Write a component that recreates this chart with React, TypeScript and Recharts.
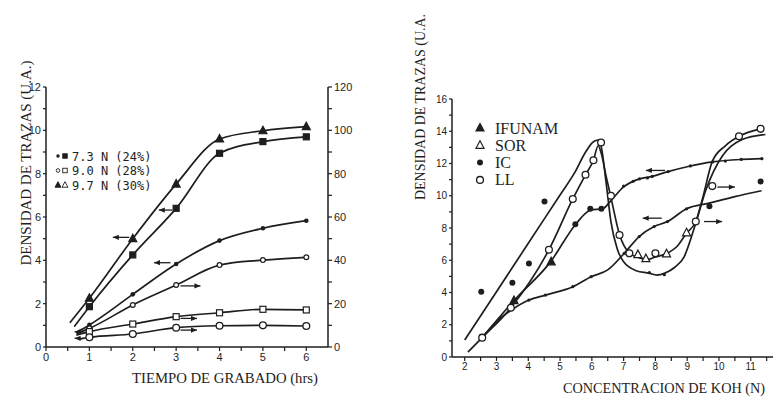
import React from 'react'
import { ComposedChart, Line, XAxis, YAxis } from 'recharts'

const INK = '#1e1e1e'
const PAPER = '#ffffff'

// ---- left panel: track density vs. etching time
const hours = [1, 2, 3, 4, 5, 6]
const densTri = [2.25, 5.0, 7.52, 9.6, 9.98, 10.17]
const densSq = [1.86, 4.25, 6.4, 8.94, 9.48, 9.7]
const densDot = [1.02, 2.43, 3.83, 4.91, 5.48, 5.83]
const densRing = [0.86, 1.94, 2.86, 3.78, 4.01, 4.14]
const densSqOpen = [0.71, 1.06, 1.4, 1.58, 1.74, 1.71]
const densCircle = [0.45, 0.6, 0.89, 0.98, 1.0, 0.97]
// where each fitted curve begins (x, y), ahead of the first measurement
const startTri = [0.55, 1.12]
const startSq = [0.65, 0.94]
const startDot = [0.7, 0.68]
const startRing = [0.7, 0.62]
const startSqOpen = [0.7, 0.55]
const startCircle = [0.75, 0.35]
// axis markers: y, tail x, head x
const timeArrowY = [5.06, 6.32, 3.89, 2.82, 1.32, 0.78, 0.7, 0.4]
const timeArrowFrom = [1.92, 2.91, 2.87, 3.1, 3.1, 3.1, 0.88, 0.88]
const timeArrowTo = [1.54, 2.6, 2.49, 3.56, 3.48, 3.48, 0.66, 0.66]

const timeTicks = [0, 0.5, 1, 1.5, 2, 2.5, 3, 3.5, 4, 4.5, 5, 5.5, 6]
const densTicks = [0, 1, 2, 3, 4, 5, 6, 7, 8, 9, 10, 11, 12]
const pctTicks = [0, 10, 20, 30, 40, 50, 60, 70, 80, 90, 100, 110, 120]

// ---- right panel: track density vs. KOH concentration
const outerX = [2.0, 3.0, 4.0, 5.0, 5.45, 5.8, 6.05, 6.2, 6.3, 6.45, 6.6, 6.8, 7.0, 7.4, 7.8, 8.05, 8.3, 8.6, 8.9, 9.27, 9.59, 10.1, 10.73, 11.46]
const outerY = [1.05, 4.05, 7.05, 10.05, 11.4, 12.7, 13.35, 13.45, 13.0, 10.8, 8.4, 6.7, 5.9, 5.35, 5.2, 5.08, 5.2, 5.55, 6.2, 8.3, 10.37, 12.45, 13.49, 13.8]
const llX = [2.1, 2.55, 3.45, 4.65, 5.4, 5.8, 6.05, 6.2, 6.3, 6.45, 6.6, 6.87, 7.18, 7.5, 7.75, 8.0, 8.33, 8.7, 8.98, 9.27, 9.5, 9.79, 10.2, 10.63, 11.31]
const llY = [0.3, 1.2, 3.05, 6.65, 9.8, 11.3, 12.2, 13.1, 12.6, 11.2, 9.9, 7.6, 6.45, 6.15, 6.05, 6.2, 6.4, 6.9, 7.68, 8.4, 9.96, 12.13, 13.1, 13.69, 14.15]
const upperX = [2.55, 3.55, 4.7, 5.5, 5.95, 6.35, 6.6, 7.0, 7.5, 7.9, 8.4, 9.0, 9.8, 10.7, 11.35]
const upperY = [1.2, 3.5, 5.9, 8.25, 9.1, 9.2, 9.7, 10.55, 11.05, 11.2, 11.5, 11.8, 12.1, 12.25, 12.3]
const lowerX = [2.55, 3.0, 3.5, 4.02, 4.54, 5.4, 5.98, 6.5, 7.02, 7.49, 7.96, 8.38, 8.98, 9.69, 10.5, 11.34]
const lowerY = [1.2, 2.2, 2.95, 3.53, 3.84, 4.36, 4.98, 5.4, 6.43, 7.47, 8.09, 8.4, 9.19, 9.54, 9.95, 10.31]

const ifunamX = [3.55, 4.72]
const ifunamY = [3.5, 5.9]
const sorX = [7.45, 7.7, 8.35, 8.98]
const sorY = [6.35, 6.1, 6.4, 7.7]
const icX = [2.52, 3.5, 4.02, 4.51, 5.48, 5.95, 6.3, 9.7, 11.31]
const icY = [4.05, 4.6, 5.8, 9.65, 8.24, 9.2, 9.2, 9.35, 10.89]
const llPtX = [2.55, 3.45, 4.65, 5.4, 5.8, 6.05, 6.29, 6.6, 6.87, 7.18, 8.0, 9.27, 9.79, 10.63, 11.31]
const llPtY = [1.2, 3.05, 6.65, 9.8, 11.3, 12.2, 13.3, 10.0, 7.57, 6.43, 6.43, 8.4, 10.6, 13.69, 14.15]
const smallX = [7.0, 7.3, 7.5, 7.75, 7.9, 8.4, 9.1, 9.8, 10.2, 10.7, 11.35, 4.02, 4.54, 5.4, 5.98, 7.02, 7.49, 7.96, 8.38, 8.98, 7.81, 8.28]
const smallY = [10.6, 10.9, 11.05, 11.1, 11.2, 11.5, 11.85, 12.1, 12.15, 12.25, 12.3, 3.53, 3.84, 4.36, 4.98, 6.43, 7.47, 8.09, 8.4, 9.19, 5.23, 5.1]

const kohArrowY = [11.57, 10.54, 8.61, 8.4]
const kohArrowFrom = [8.3, 9.95, 8.2, 9.53]
const kohArrowTo = [7.7, 10.5, 7.6, 10.1]

const kohTicks = [2, 2.5, 3, 3.5, 4, 4.5, 5, 5.5, 6, 6.5, 7, 7.5, 8, 8.5, 9, 9.5, 10, 10.5, 11, 11.5]
const kohDensTicks = [0, 1, 2, 3, 4, 5, 6, 7, 8, 9, 10, 11, 12, 13, 14, 15, 16]

type Kind = 'tri' | 'triOpen' | 'sq' | 'sqOpen' | 'dot' | 'ring' | 'disc' | 'circle' | 'small'

function Marker({ kind, cx, cy }: { kind: Kind; cx: number; cy: number }) {
  if (cx == null || cy == null) return null
  switch (kind) {
    case 'tri':
    case 'triOpen':
      return (
        <polygon
          points={`${cx},${cy - 4.5} ${cx - 4},${cy + 3} ${cx + 4},${cy + 3}`}
          fill={kind === 'tri' ? INK : PAPER}
          stroke={INK}
          strokeWidth={1.2}
        />
      )
    case 'sq':
    case 'sqOpen':
      return (
        <rect
          x={cx - 3}
          y={cy - 3}
          width={6}
          height={6}
          fill={kind === 'sq' ? INK : PAPER}
          stroke={INK}
          strokeWidth={1.2}
        />
      )
    case 'dot':
      return <circle cx={cx} cy={cy} r={2.3} fill={INK} />
    case 'small':
      return <circle cx={cx} cy={cy} r={1.6} fill={INK} />
    case 'disc':
      return <circle cx={cx} cy={cy} r={3} fill={INK} />
    case 'ring':
      return <circle cx={cx} cy={cy} r={2.4} fill={PAPER} stroke={INK} strokeWidth={1.2} />
    case 'circle':
      return <circle cx={cx} cy={cy} r={3.4} fill={PAPER} stroke={INK} strokeWidth={1.3} />
  }
  return null
}

// dot renderer that skips rows flagged as curve-only
const dotOf = (kind: Kind) => (p: any) =>
  p.payload && p.payload.mark === false ? (
    <g key={`n${p.index}`} />
  ) : (
    <Marker key={`m${p.index}`} kind={kind} cx={p.cx} cy={p.cy} />
  )

const arrowHead = (p: any) => {
  if (p.index !== 1) return <g key={`a${p.index}`} />
  const d = p.payload.dir
  const { cx, cy } = p
  return (
    <polygon
      key={`a${p.index}`}
      points={`${cx},${cy} ${cx - d * 6},${cy - 2.6} ${cx - d * 6},${cy + 2.6}`}
      fill={INK}
    />
  )
}

const zip = (xs: number[], ys: number[]) => xs.map((x, i) => ({ x, y: ys[i] }))
const timeRows = (start: number[], ys: number[]) => [
  { x: start[0], y: start[1], mark: false },
  ...hours.map((h, i) => ({ x: h, y: ys[i] })),
]
const arrowRows = (y: number, from: number, to: number) => [
  { x: from, y, dir: Math.sign(to - from) },
  { x: to, y, dir: Math.sign(to - from) },
]

const tickFont = { fill: INK, fontSize: 11, fontFamily: 'Liberation Sans, Arial, sans-serif' }
const axisStroke = { stroke: INK, strokeWidth: 1.5 }
const tickStroke = { stroke: INK, strokeWidth: 1.2 }
const intLabel = (v: number) => (Number.isInteger(v) ? String(v) : '')
const evenLabel = (step: number) => (v: number) => (v % step === 0 ? String(v) : '')
const blank = () => ''

const timeSeries: { start: number[]; ys: number[]; kind: Kind }[] = [
  { start: startTri, ys: densTri, kind: 'tri' },
  { start: startSq, ys: densSq, kind: 'sq' },
  { start: startDot, ys: densDot, kind: 'dot' },
  { start: startRing, ys: densRing, kind: 'ring' },
  { start: startSqOpen, ys: densSqOpen, kind: 'sqOpen' },
  { start: startCircle, ys: densCircle, kind: 'circle' },
]

function TimeChart() {
  return (
    <ComposedChart width={380} height={400} margin={{ top: 87, right: 12, bottom: 23, left: 0 }}>
      <XAxis
        xAxisId="b"
        dataKey="x"
        type="number"
        domain={[0, 6.5]}
        ticks={timeTicks}
        interval={0}
        tickFormatter={intLabel}
        tick={tickFont}
        tickSize={4}
        tickMargin={2}
        height={30}
        axisLine={axisStroke}
        tickLine={tickStroke}
        allowDataOverflow
      />
      <XAxis
        xAxisId="t"
        orientation="top"
        dataKey="x"
        type="number"
        domain={[0, 6.5]}
        ticks={timeTicks}
        interval={0}
        tickFormatter={blank}
        tickSize={4}
        height={0}
        axisLine={axisStroke}
        tickLine={tickStroke}
        allowDataOverflow
      />
      <YAxis
        yAxisId="l"
        type="number"
        domain={[0, 12]}
        ticks={densTicks}
        interval={0}
        tickFormatter={evenLabel(2)}
        tick={tickFont}
        tickSize={3}
        tickMargin={2}
        width={46}
        axisLine={axisStroke}
        tickLine={tickStroke}
        allowDataOverflow
      />
      <YAxis
        yAxisId="r"
        orientation="right"
        type="number"
        domain={[0, 120]}
        ticks={pctTicks}
        interval={0}
        tickFormatter={evenLabel(20)}
        tick={tickFont}
        tickSize={4}
        tickMargin={2}
        width={40}
        axisLine={axisStroke}
        tickLine={tickStroke}
        allowDataOverflow
      />
      {timeSeries.map((s, i) => (
        <Line
          key={`c${i}`}
          xAxisId="b"
          yAxisId="l"
          data={timeRows(s.start, s.ys)}
          dataKey="y"
          type="monotone"
          stroke={INK}
          strokeWidth={1.7}
          dot={dotOf(s.kind)}
          activeDot={false}
          isAnimationActive={false}
        />
      ))}
      {timeArrowY.map((y, i) => (
        <Line
          key={`a${i}`}
          xAxisId="b"
          yAxisId="l"
          data={arrowRows(y, timeArrowFrom[i], timeArrowTo[i])}
          dataKey="y"
          type="linear"
          stroke={INK}
          strokeWidth={1.3}
          dot={arrowHead}
          activeDot={false}
          isAnimationActive={false}
        />
      ))}
    </ComposedChart>
  )
}

const kohCurves = [
  zip(outerX, outerY),
  zip(llX, llY),
  zip(upperX, upperY),
  zip(lowerX, lowerY),
]
const kohPoints: { rows: { x: number; y: number }[]; kind: Kind }[] = [
  { rows: zip(smallX, smallY), kind: 'small' },
  { rows: zip(icX, icY), kind: 'disc' },
  { rows: zip(ifunamX, ifunamY), kind: 'tri' },
  { rows: zip(sorX, sorY), kind: 'triOpen' },
  { rows: zip(llPtX, llPtY), kind: 'circle' },
]

function KohChart() {
  const kohFont = { ...tickFont, fontSize: 10 }
  return (
    <ComposedChart width={397} height={400} margin={{ top: 99, right: 4, bottom: 18, left: 48 }}>
      <XAxis
        xAxisId="b"
        dataKey="x"
        type="number"
        domain={[1.6, 11.7]}
        ticks={kohTicks}
        interval={0}
        tickFormatter={intLabel}
        tick={kohFont}
        tickSize={4}
        tickMargin={2}
        height={25}
        axisLine={axisStroke}
        tickLine={tickStroke}
        allowDataOverflow
      />
      <XAxis
        xAxisId="t"
        orientation="top"
        dataKey="x"
        type="number"
        domain={[1.6, 11.7]}
        ticks={kohTicks}
        interval={0}
        tickFormatter={blank}
        tickSize={4}
        height={0}
        axisLine={axisStroke}
        tickLine={tickStroke}
        allowDataOverflow
      />
      <YAxis
        yAxisId="l"
        type="number"
        domain={[0, 16]}
        ticks={kohDensTicks}
        interval={0}
        tickFormatter={evenLabel(2)}
        tick={kohFont}
        tickSize={3}
        tickMargin={2}
        width={24}
        axisLine={axisStroke}
        tickLine={tickStroke}
        allowDataOverflow
      />
      <YAxis
        yAxisId="r"
        orientation="right"
        type="number"
        domain={[0, 16]}
        ticks={kohDensTicks}
        interval={0}
        tickFormatter={blank}
        tickSize={3}
        width={0}
        axisLine={axisStroke}
        tickLine={tickStroke}
        allowDataOverflow
      />
      {kohCurves.map((rows, i) => (
        <Line
          key={`k${i}`}
          xAxisId="b"
          yAxisId="l"
          data={rows}
          dataKey="y"
          type="monotone"
          stroke={INK}
          strokeWidth={1.7}
          dot={false}
          activeDot={false}
          isAnimationActive={false}
        />
      ))}
      {kohPoints.map((s, i) => (
        <Line
          key={`p${i}`}
          xAxisId="b"
          yAxisId="l"
          data={s.rows}
          dataKey="y"
          stroke="none"
          dot={dotOf(s.kind)}
          activeDot={false}
          isAnimationActive={false}
        />
      ))}
      {kohArrowY.map((y, i) => (
        <Line
          key={`a${i}`}
          xAxisId="b"
          yAxisId="l"
          data={arrowRows(y, kohArrowFrom[i], kohArrowTo[i])}
          dataKey="y"
          type="linear"
          stroke={INK}
          strokeWidth={1.3}
          dot={arrowHead}
          activeDot={false}
          isAnimationActive={false}
        />
      ))}
    </ComposedChart>
  )
}

const serif = 'Liberation Serif, DejaVu Serif, serif'
const mono = 'DejaVu Sans Mono, Liberation Mono, monospace'

const timeLegend: { a: Kind; b: Kind; label: string }[] = [
  { a: 'dot', b: 'sq', label: '7.3 N (24%)' },
  { a: 'ring', b: 'sqOpen', label: '9.0 N (28%)' },
  { a: 'tri', b: 'triOpen', label: '9.7 N (30%)' },
]
const kohLegend: { kind: Kind; label: string }[] = [
  { kind: 'tri', label: 'IFUNAM' },
  { kind: 'triOpen', label: 'SOR' },
  { kind: 'disc', label: 'IC' },
  { kind: 'circle', label: 'LL' },
]

function Annotations() {
  return (
    <svg
      width={777}
      height={400}
      style={{ position: 'absolute', left: 0, top: 0, pointerEvents: 'none' }}
    >
      <g fill={INK} fontFamily={serif} fontSize={15}>
        <text
          transform="translate(26,163) rotate(-90)"
          textAnchor="middle"
          dominantBaseline="central"
          textLength={205}
          lengthAdjust="spacingAndGlyphs"
        >
          DENSIDAD DE TRAZAS (U.A.)
        </text>
        <text x={132} y={383} textLength={186} lengthAdjust="spacingAndGlyphs">
          TIEMPO DE GRABADO (hrs)
        </text>
        <text
          transform="translate(420,107) rotate(-90)"
          textAnchor="middle"
          dominantBaseline="central"
          textLength={186}
          lengthAdjust="spacingAndGlyphs"
        >
          DENSIDAD DE TRAZAS (U.A.
        </text>
        <text x={563} y={393} fontSize={15} textLength={202} lengthAdjust="spacingAndGlyphs">
          CONCENTRACION DE KOH (N)
        </text>
      </g>
      {timeLegend.map((r, i) => {
        const y = 156 + i * 14.5
        return (
          <g key={r.label}>
            <g transform={`translate(${58},${y}) scale(0.75) translate(${-58},${-y})`}>
              <Marker kind={r.a} cx={58} cy={y} />
            </g>
            <g transform={`translate(${65},${y}) scale(0.75) translate(${-65},${-y})`}>
              <Marker kind={r.b} cx={65} cy={y} />
            </g>
            <text x={72} y={y + 4.5} fill={INK} fontFamily={mono} fontSize={12}>
              {r.label}
            </text>
          </g>
        )
      })}
      {kohLegend.map((r, i) => {
        const y = 128 + i * 17.3
        return (
          <g key={r.label}>
            <Marker kind={r.kind} cx={480} cy={y} />
            <text x={495} y={y + 5.5} fill={INK} fontFamily={serif} fontSize={16}>
              {r.label}
            </text>
          </g>
        )
      })}
    </svg>
  )
}

export default function App() {
  return (
    <div
      style={{
        position: 'absolute',
        left: 0,
        top: 0,
        width: 777,
        height: 400,
        background: PAPER,
        overflow: 'hidden',
      }}
    >
      <div style={{ position: 'absolute', left: 0, top: 0 }}>
        <TimeChart />
      </div>
      <div style={{ position: 'absolute', left: 380, top: 0 }}>
        <KohChart />
      </div>
      <Annotations />
    </div>
  )
}
